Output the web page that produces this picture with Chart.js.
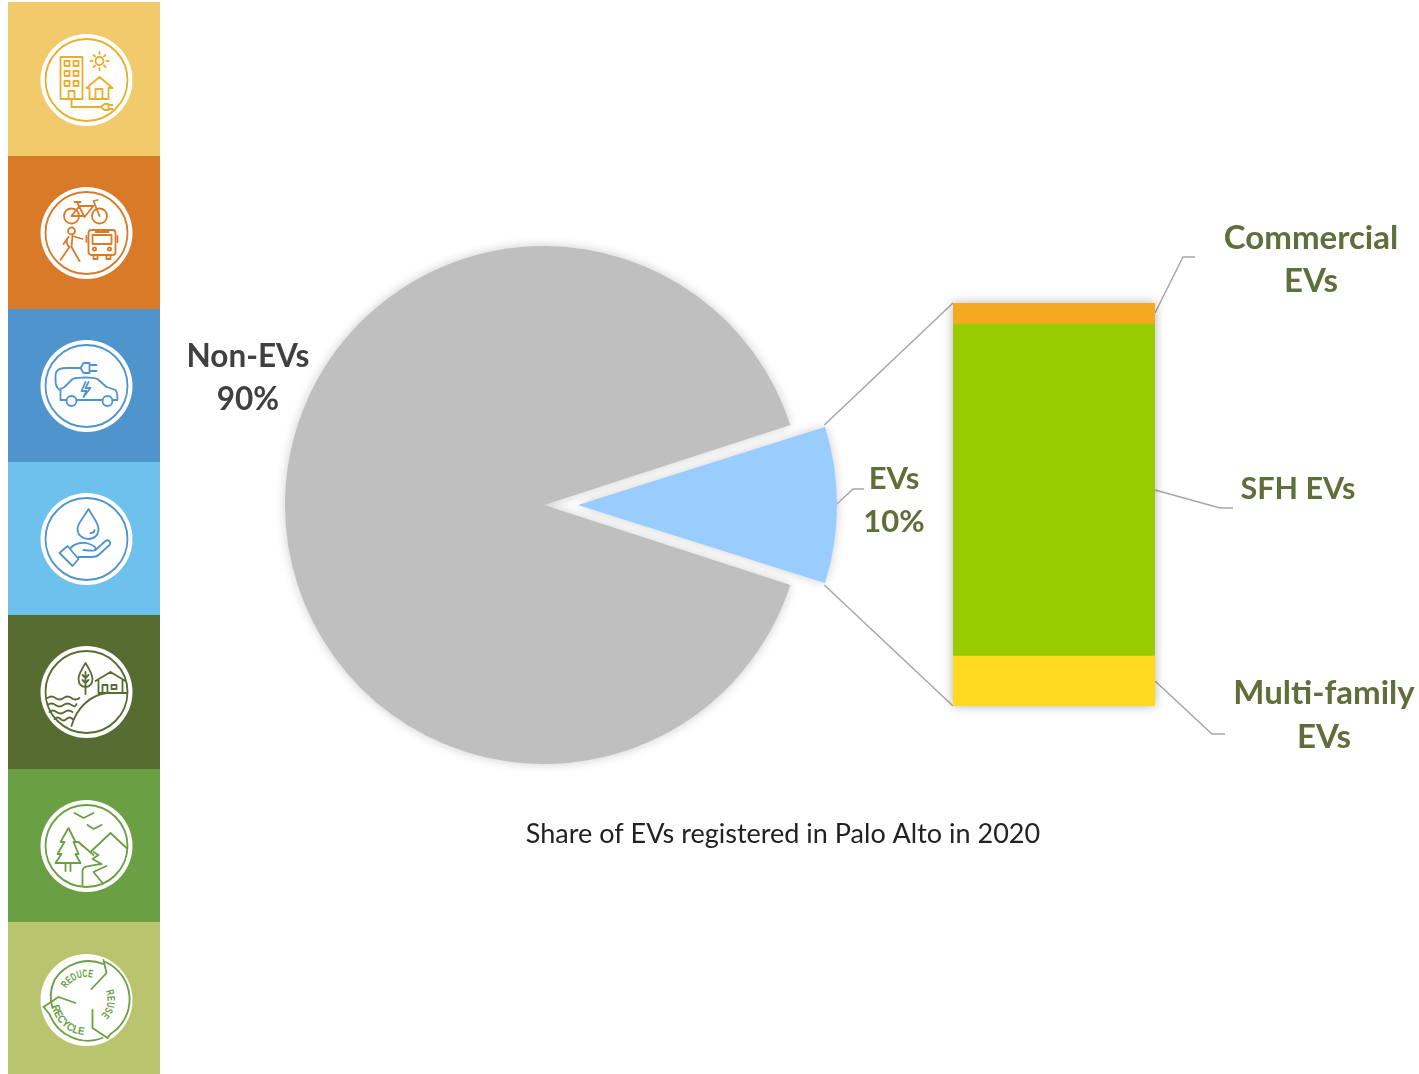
<!DOCTYPE html>
<html lang="en">
  <head>
    <meta charset="UTF-8" />
    <title>Share of EVs registered in Palo Alto in 2020</title>
    <style>
      html,
      body {
        margin: 0;
        background: #fff;
        overflow: hidden;
      }
      #page {
        position: relative;
        width: 1419px;
        height: 1074px;
      }
      canvas,
      #sidebar {
        position: absolute;
      }
      #pieChart {
        left: 0;
        top: 0;
      }
      /* bar canvas sticks out 20px on every side so its shadow has room */
      #barChart {
        left: 933px;
        top: 283px;
      }
      #sidebar {
        left: 0;
        top: 0;
      }
      #sidebar .disc {
        fill: #fff;
      }
      #sidebar .icon path,
      #sidebar .icon circle,
      #sidebar .icon rect {
        fill: none;
        stroke-width: 1.8;
        stroke-linejoin: round;
        stroke-linecap: round;
      }
      #sidebar .icon text {
        font: bold 11px "Liberation Sans Narrow", "Liberation Sans", sans-serif;
        stroke: none;
      }
    </style>
    <script src="https://cdn.jsdelivr.net/npm/chart.js"></script>
  </head>
  <body>
    <div id="page">
      <svg id="sidebar" width="160" height="1074" viewBox="0 0 160 1074">
        <defs>
          <path id="reduceArc" d="M-20 -11.5 A23 23 0 0 1 4 -22.6" />
          <path id="reuseArc" d="M19 -8.9 A21 21 0 0 1 14.8 14.8" />
          <path id="recycleArc" d="M-34.5 6 A35 35 0 0 0 -1 35" />
        </defs>
        <rect x="8" y="2" width="152" height="154" fill="#f1cb6b" />
        <rect x="8" y="156" width="152" height="153" fill="#d87a28" />
        <rect x="8" y="309" width="152" height="153" fill="#5094ce" />
        <rect x="8" y="462" width="152" height="153" fill="#6ec1ec" />
        <rect x="8" y="615" width="152" height="154" fill="#566c30" />
        <rect x="8" y="769" width="152" height="153" fill="#6a9f43" />
        <rect x="8" y="922" width="152" height="152" fill="#b9c46e" />

        <!-- buildings and sun -->
        <g transform="translate(86.5 80)">
          <circle class="disc" r="46" />
          <g class="icon" stroke="#ebae2a">
            <circle r="41" />
            <path d="M-26 -23 H-4 V19 H-26 Z" />
            <path d="M-22 -19 h5 v5 h-5 Z M-13 -19 h5 v5 h-5 Z M-22 -9 h5 v5 h-5 Z M-13 -9 h5 v5 h-5 Z M-22 1 h5 v5 h-5 Z M-13 1 h5 v5 h-5 Z" />
            <path d="M-18 19 V11 H-12 V19 M-15 19 V27 H14" />
            <path d="M0 8 L13 -3 L26 8 H22 V19 H3 V8 Z M9 19 V9 H16 V19" />
            <circle cx="13" cy="-19" r="4" />
            <path d="M13 -28 V-26 M13 -12 V-10 M4 -19 H6 M20 -19 H22 M7 -25 L8.5 -23.5 M17.5 -14.5 L19 -13 M19 -25 L17.5 -23.5 M8.5 -14.5 L7 -13" />
            <path d="M14 27 L18 24 H22 V30 H18 Z M22 25 H26 M22 29 H26" />
          </g>
        </g>

        <!-- bike, walker and bus -->
        <g transform="translate(86.5 233)">
          <circle class="disc" r="46" />
          <g class="icon" stroke="#d87a28">
            <circle r="41" />
            <circle cx="-15" cy="-17" r="7.5" />
            <circle cx="13" cy="-17" r="7.5" />
            <path d="M-15 -17 L-7 -27 H7 L-2 -16 L-9 -30 M-12 -31 H-6 M-15 -17 H-2 M13 -17 L7 -32 L11 -33" />
            <circle cx="-15" cy="-2" r="3.5" />
            <path d="M-14 3 L-4 6 M-18 4 C-21 8 -20 12 -17 14 L-26 27 M-14 3 L-15 14 L-7 28 M-18 4 L-23 11" />
            <rect x="2" y="-3" width="27" height="25" rx="3" />
            <path d="M6 2 H25 V11 H6 Z M9 -1 H22 M7 22 V26 H11 V22 M20 22 V26 H24 V22" />
            <circle cx="8" cy="16" r="1.6" />
            <circle cx="23" cy="16" r="1.6" />
            <path d="M0 3 V9 M31 3 V9" />
          </g>
        </g>

        <!-- EV and plug -->
        <g transform="translate(86.5 386)">
          <circle class="disc" r="46" />
          <g class="icon" stroke="#5094ce">
            <circle r="41" />
            <path d="M-26 14 V3 L-22 1 L-14 -7 C-8 -9 6 -9 11 -7 L20 1 L29 4 C31 6 31 10 31 14 H26 M16 14 H-10 M-20 14 H-26" />
            <circle cx="-15" cy="15" r="5" />
            <circle cx="21" cy="15" r="5" />
            <path d="M-1 -4 L-5 5 H0 L-3 11 L4 2 H-1 L2 -4" />
            <path d="M-26 4 C-31 2 -31 -2 -31 -10 C-31 -17 -26 -18 -18 -18 H-6" />
            <path d="M-6 -18 L-3 -23 H3 V-13 H-3 Z M3 -21 H10 M3 -15 H10" />
          </g>
        </g>

        <!-- water drop in a hand -->
        <g transform="translate(86.5 539)">
          <circle class="disc" r="46" />
          <g class="icon" stroke="#5094ce">
            <circle r="41" />
            <path d="M2 -30 C-3 -21 -9 -16 -9 -10 C-9 -4 -4 0 2 0 C8 0 12 -4 12 -10 C12 -16 7 -21 2 -30 Z" />
            <path d="M4 -6 C6 -6 8 -7 8 -9" />
            <path d="M-27 14 L-19 7 L-8 20 L-14 27 Z" />
            <path d="M-16 9 C-10 3 -2 3 3 5 C6 6 9 8 9 10 C9 12 6 12 -3 11 M9 11 L19 2 C22 0 25 3 23 6 L12 16 C10 18 8 18 5 18 L-8 18" />
          </g>
        </g>

        <!-- hill, tree, house and water -->
        <g transform="translate(86.5 692)">
          <circle class="disc" r="46" />
          <g class="icon" stroke="#566c30">
            <circle r="41" />
            <path d="M-1 -29 C-6 -21 -8 -17 -8 -13 C-8 -8 -5 -5 -1 -5 C3 -5 6 -8 6 -13 C6 -17 4 -21 -1 -29 Z" />
            <path d="M-1 -20 V2 M-1 -14 L-4 -17 M-1 -14 L2 -17 M-1 -9 L-4 -12 M-1 -9 L2 -12" />
            <path d="M9 -11 L24 -20 L39 -11 M12 -12 V1 H36 V-12 M16 1 V-7 H21 V1 M25 -7 H30 V-3 H25 Z" />
            <path d="M40 1 H20 C4 3 -10 16 -15 34" />
            <path d="M-39 6 q4 -3 8 0 t8 0 t8 0 t8 0 M-39 13 q4 -3 8 0 t8 0 t8 0 t5 -1 M-37 20 q3 -3 7 0 t8 0 t8 0 M-32 27 q3 -3 6 0 t6 0 t6 0" />
          </g>
        </g>

        <!-- forest, birds and river -->
        <g transform="translate(86.5 846)">
          <circle class="disc" r="46" />
          <g class="icon" stroke="#6a9f43">
            <circle r="41" />
            <path d="M-12 -33 L-3 -28 L7 -33 M1 -21 L7 -17 L15 -21" />
            <path d="M-18 -18 L-26 -4 H-22 L-29 8 H-25 L-31 17 H-6 L-11 8 H-8 L-13 -4 H-11 Z M-21 17 V25 M-16 17 V25" />
            <path d="M-12 -4 L-8 -4 L7 9 M-8 -4 L-4 0 M5 5 L24 -13 L40 2" />
            <path d="M-4 39 V24 C-3 20 2 20 15 18 L6 13 L12 9 L7 6 M16 37 L7 26 L20 20" />
          </g>
        </g>

        <!-- reduce, reuse, recycle -->
        <g transform="translate(86.5 1000)">
          <circle class="disc" r="46" />
          <g class="icon" stroke="#6a9f43">
            <path d="M-34 8 A39 39 0 0 1 -32 -20 A40 40 0 0 1 17 -36" />
            <path d="M17 -40 L20 -27 L5 -11" />
            <path d="M19 -38 A41 41 0 0 1 24 34 L21 38" />
            <path d="M21 38 L6 28 L6 10" />
            <path d="M16 38 A41 41 0 0 1 -37 14 L-43 7" />
            <path d="M-43 7 L-28 -3 L-11 3" />
            <text fill="#6a9f43"><textPath href="#reduceArc" textLength="30" lengthAdjust="spacingAndGlyphs">REDUCE</textPath></text>
            <text fill="#6a9f43"><textPath href="#reuseArc" textLength="26" lengthAdjust="spacingAndGlyphs">REUSE</textPath></text>
            <text fill="#6a9f43"><textPath href="#recycleArc" textLength="46" lengthAdjust="spacingAndGlyphs">RECYCLE</textPath></text>
          </g>
        </g>
      </svg>

      <canvas id="pieChart" width="1419" height="1074"></canvas>
      <canvas id="barChart" width="242" height="443"></canvas>
    </div>

    <script>
      const pieLabels = ["Non-EVs", "EVs"];
      const pieValues = [90, 10];
      const pieColors = ["#bfbfbf", "#99ccff"];

      // share of all vehicles, bottom of the stack first
      const barLabels = ["Multi-family EVs", "SFH EVs", "Commercial EVs"];
      const barValues = [1.24, 8.24, 0.52];
      const barColors = ["#ffd920", "#99cc00", "#f6a821"];

      const titleText = "Share of EVs registered in Palo Alto in 2020";

      const labelDark = "#404040";
      const labelGreen = "#5f6f3a";
      const leaderColor = "#a6a6a6";
      const pieRadius = 259;
      const sliceShift = 34; // how far the EV slice is pulled out, px
      const barLeft = 933;
      const barTop = 283;

      // where the data labels and their leader lines sit
      const pieSpots = [
        { x: 248, y: [357, 400], size: 31.5, color: labelDark, lines: null },
        {
          x: 894,
          y: [479, 522],
          size: 31,
          color: labelGreen,
          lines: [[837, 504], [853, 489], [864, 489]],
        },
      ];
      const barSpots = [
        {
          x: 1324,
          y: [693, 737],
          size: 33,
          text: ["Multi-family", "EVs"],
          lines: [[1155, 681], [1212, 734], [1225, 734]],
        },
        {
          x: 1298,
          y: [489],
          size: 30.5,
          text: ["SFH EVs"],
          lines: [[1155, 490], [1220, 508], [1233, 508]],
        },
        {
          x: 1311,
          y: [238, 281],
          size: 33,
          text: ["Commercial", "EVs"],
          lines: [[1155, 313], [1183, 257], [1195, 257]],
        },
      ];

      function drawPolyline(ctx, pts, color, width) {
        ctx.beginPath();
        pts.forEach((p, i) => (i ? ctx.lineTo(p[0], p[1]) : ctx.moveTo(p[0], p[1])));
        ctx.strokeStyle = color;
        ctx.lineWidth = width;
        ctx.stroke();
      }

      function drawLabel(ctx, textLines, spot, color) {
        ctx.font = `bold ${spot.size}px Lato, "Open Sans", sans-serif`;
        ctx.fillStyle = color;
        ctx.textAlign = "center";
        ctx.textBaseline = "middle";
        textLines.forEach((t, i) => ctx.fillText(t, spot.x, spot.y[i]));
      }

      // the stacked bar goes first, the pie plugin reads its scales
      const barShadow = {
        id: "barShadow",
        beforeDatasetsDraw(chart) {
          const { ctx, chartArea: a } = chart;
          ctx.save();
          ctx.shadowColor = "rgba(0, 0, 0, 0.3)";
          ctx.shadowBlur = 10;
          ctx.fillStyle = "#fff";
          ctx.fillRect(a.left, a.top, a.width, a.height);
          ctx.restore();
        },
      };

      const barChart = new Chart(document.getElementById("barChart"), {
        type: "bar",
        data: {
          labels: ["EVs"],
          datasets: barLabels.map((label, i) => ({
            label: label,
            data: [barValues[i]],
            backgroundColor: barColors[i],
            borderWidth: 0,
            categoryPercentage: 1,
            barPercentage: 1,
          })),
        },
        options: {
          responsive: false,
          animation: false,
          layout: { padding: 20 },
          scales: {
            x: { stacked: true, display: false },
            y: { stacked: true, display: false, min: 0, max: 10 },
          },
          plugins: { legend: { display: false }, tooltip: { enabled: false } },
        },
        plugins: [barShadow],
      });

      const pieDecor = {
        id: "pieDecor",
        afterDatasetsUpdate(chart) {
          // Chart.js grows an offset arc by offset * (1 - sin(angle)), take that back
          const arc = chart.getDatasetMeta(0).data[1];
          arc.outerRadius = pieRadius - sliceShift * (1 - Math.sin(arc.circumference));
        },
        beforeDatasetsDraw(chart) {
          const ctx = chart.ctx;
          ctx.save();
          ctx.shadowColor = "rgba(0, 0, 0, 0.2)";
          ctx.shadowBlur = 11;
        },
        afterDatasetsDraw(chart) {
          chart.ctx.restore();
        },
        afterDraw(chart) {
          const ctx = chart.ctx;
          const arc = chart.getDatasetMeta(0).data[1];
          const mid = (arc.startAngle + arc.endAngle) / 2;
          const cx = arc.x + Math.cos(mid) * sliceShift;
          const cy = arc.y + Math.sin(mid) * sliceShift;

          // series lines from the EV slice to the bar corners
          const bx = barLeft + barChart.chartArea.left;
          const yScale = barChart.scales.y;
          const total = barValues.reduce((a, b) => a + b, 0);
          [arc.endAngle, arc.startAngle].forEach((angle, i) => {
            const value = i === 0 ? 0 : total;
            drawPolyline(
              ctx,
              [
                [cx + Math.cos(angle) * pieRadius, cy + Math.sin(angle) * pieRadius],
                [bx, barTop + yScale.getPixelForValue(value)],
              ],
              leaderColor,
              1.5
            );
          });

          const pieTotal = pieValues.reduce((a, b) => a + b, 0);
          pieSpots.forEach((spot, i) => {
            if (spot.lines) drawPolyline(ctx, spot.lines, leaderColor, 1.5);
            const pct = Math.round((pieValues[i] / pieTotal) * 100) + "%";
            drawLabel(ctx, [pieLabels[i], pct], spot, spot.color);
          });
          barSpots.forEach((spot) => {
            drawPolyline(ctx, spot.lines, leaderColor, 1.5);
            drawLabel(ctx, spot.text, spot, labelGreen);
          });

          ctx.font = '27px Lato, "Open Sans", sans-serif';
          ctx.fillStyle = "#222";
          ctx.textAlign = "center";
          ctx.textBaseline = "middle";
          ctx.fillText(titleText, 783, 834);
        },
      };

      new Chart(document.getElementById("pieChart"), {
        type: "pie",
        data: {
          labels: pieLabels,
          datasets: [
            {
              data: pieValues,
              backgroundColor: pieColors,
              borderWidth: 0,
              offset: [0, sliceShift * 4],
              clip: false,
            },
          ],
        },
        options: {
          responsive: false,
          animation: false,
          rotation: 108,
          radius: pieRadius,
          // centres the pie on x 544, y 505 of the page
          layout: { padding: { left: 244, right: 575, top: 205, bottom: 269 } },
          plugins: { legend: { display: false }, tooltip: { enabled: false } },
        },
        plugins: [pieDecor],
      });
    </script>
  </body>
</html>
